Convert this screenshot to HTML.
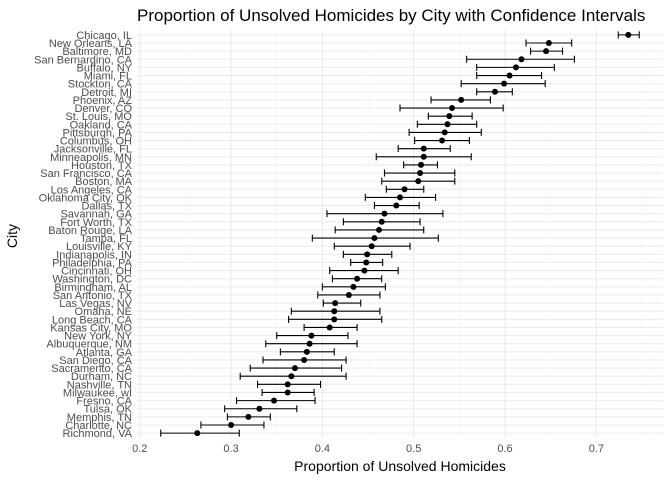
<!DOCTYPE html>
<html><head><meta charset="utf-8"><style>
body{margin:0;background:#fff;}
svg{display:block;font-family:"Liberation Sans",Arial,sans-serif;}
</style></head><body>
<svg id="chart" width="672" height="480">
<text x="137" y="21" font-size="17" fill="#000">Proportion of Unsolved Homicides by City with Confidence Intervals</text>
<g id="grid"></g><g id="ylabels"></g><g id="xlabels"></g><g id="marks"></g>
<text x="400" y="471" font-size="14" text-anchor="middle" fill="#000">Proportion of Unsolved Homicides</text>
<text transform="translate(17,236) rotate(-90)" font-size="14" text-anchor="middle" fill="#000">City</text>
</svg>
<script>
const cities=["Chicago, IL","New Orleans, LA","Baltimore, MD","San Bernardino, CA","Buffalo, NY","Miami, FL","Stockton, CA","Detroit, MI","Phoenix, AZ","Denver, CO","St. Louis, MO","Oakland, CA","Pittsburgh, PA","Columbus, OH","Jacksonville, FL","Minneapolis, MN","Houston, TX","San Francisco, CA","Boston, MA","Los Angeles, CA","Oklahoma City, OK","Dallas, TX","Savannah, GA","Fort Worth, TX","Baton Rouge, LA","Tampa, FL","Louisville, KY","Indianapolis, IN","Philadelphia, PA","Cincinnati, OH","Washington, DC","Birmingham, AL","San Antonio, TX","Las Vegas, NV","Omaha, NE","Long Beach, CA","Kansas City, MO","New York, NY","Albuquerque, NM","Atlanta, GA","San Diego, CA","Sacramento, CA","Durham, NC","Nashville, TN","Milwaukee, wI","Fresno, CA","Tulsa, OK","Memphis, TN","Charlotte, NC","Richmond, VA"];
const estimates=[0.735,0.648,0.645,0.618,0.612,0.605,0.599,0.589,0.552,0.542,0.539,0.537,0.534,0.531,0.511,0.511,0.508,0.507,0.505,0.490,0.485,0.481,0.468,0.465,0.462,0.457,0.454,0.449,0.448,0.446,0.438,0.434,0.429,0.414,0.413,0.413,0.408,0.388,0.386,0.383,0.380,0.370,0.366,0.362,0.362,0.347,0.331,0.319,0.300,0.263];
const lower=[0.724,0.623,0.628,0.558,0.569,0.569,0.552,0.569,0.519,0.485,0.516,0.504,0.495,0.501,0.483,0.459,0.489,0.468,0.465,0.470,0.447,0.457,0.405,0.423,0.414,0.389,0.413,0.423,0.431,0.408,0.411,0.400,0.395,0.401,0.366,0.363,0.380,0.350,0.338,0.354,0.335,0.321,0.310,0.329,0.334,0.306,0.293,0.296,0.267,0.223];
const upper=[0.747,0.673,0.663,0.676,0.654,0.640,0.644,0.608,0.584,0.598,0.564,0.569,0.574,0.561,0.540,0.563,0.526,0.545,0.545,0.511,0.524,0.506,0.532,0.507,0.511,0.527,0.496,0.476,0.466,0.483,0.465,0.469,0.463,0.442,0.463,0.465,0.438,0.428,0.438,0.413,0.426,0.421,0.426,0.398,0.391,0.392,0.372,0.343,0.336,0.309];
const xticks=[0.2,0.3,0.4,0.5,0.6,0.7];
const NS="http://www.w3.org/2000/svg";
const L=137,R=663,T=30,B=438,xmin=0.197,xmax=0.773;
const x=v=>L+(v-xmin)/(xmax-xmin)*(R-L);
const step=(B-T)/(cities.length-1+1.2);
const y=i=>T+step*0.6+i*step;
function mk(tag,attrs,parent){const e=document.createElementNS(NS,tag);for(const k in attrs)e.setAttribute(k,attrs[k]);parent.appendChild(e);return e;}
const grid=document.getElementById('grid'),yl=document.getElementById('ylabels'),xl=document.getElementById('xlabels'),marks=document.getElementById('marks');
for(let v=0.25;v<0.77;v+=0.1){const g=mk('line',{x1:x(v),x2:x(v),y1:T,y2:B,stroke:'#f2f2f2','stroke-width':0.6},grid);}
xticks.forEach(v=>{const g=mk('line',{x1:x(v),x2:x(v),y1:T,y2:B,stroke:'#ebebeb','stroke-width':1.1},grid);
const t=mk('text',{x:x(v),y:452,'font-size':11,fill:'#4d4d4d','text-anchor':'middle'},xl);t.textContent=v.toFixed(1);});
cities.forEach((c,i)=>{const yy=y(i);
const g=mk('line',{x1:L,x2:R,y1:yy,y2:yy,stroke:'#ebebeb','stroke-width':1.1},grid);
const t=mk('text',{x:132,y:yy+4,'font-size':11,fill:'#4d4d4d','text-anchor':'end'},yl);t.textContent=c;
const eb=mk('path',{d:`M${x(lower[i])},${yy}H${x(upper[i])}M${x(lower[i])},${yy-3.5}V${yy+3.5}M${x(upper[i])},${yy-3.5}V${yy+3.5}`,stroke:'#000','stroke-width':1.1,fill:'none'},marks);
const p=mk('circle',{cx:x(estimates[i]),cy:yy,r:3,fill:'#000'},marks);});
</script>
</body></html>
